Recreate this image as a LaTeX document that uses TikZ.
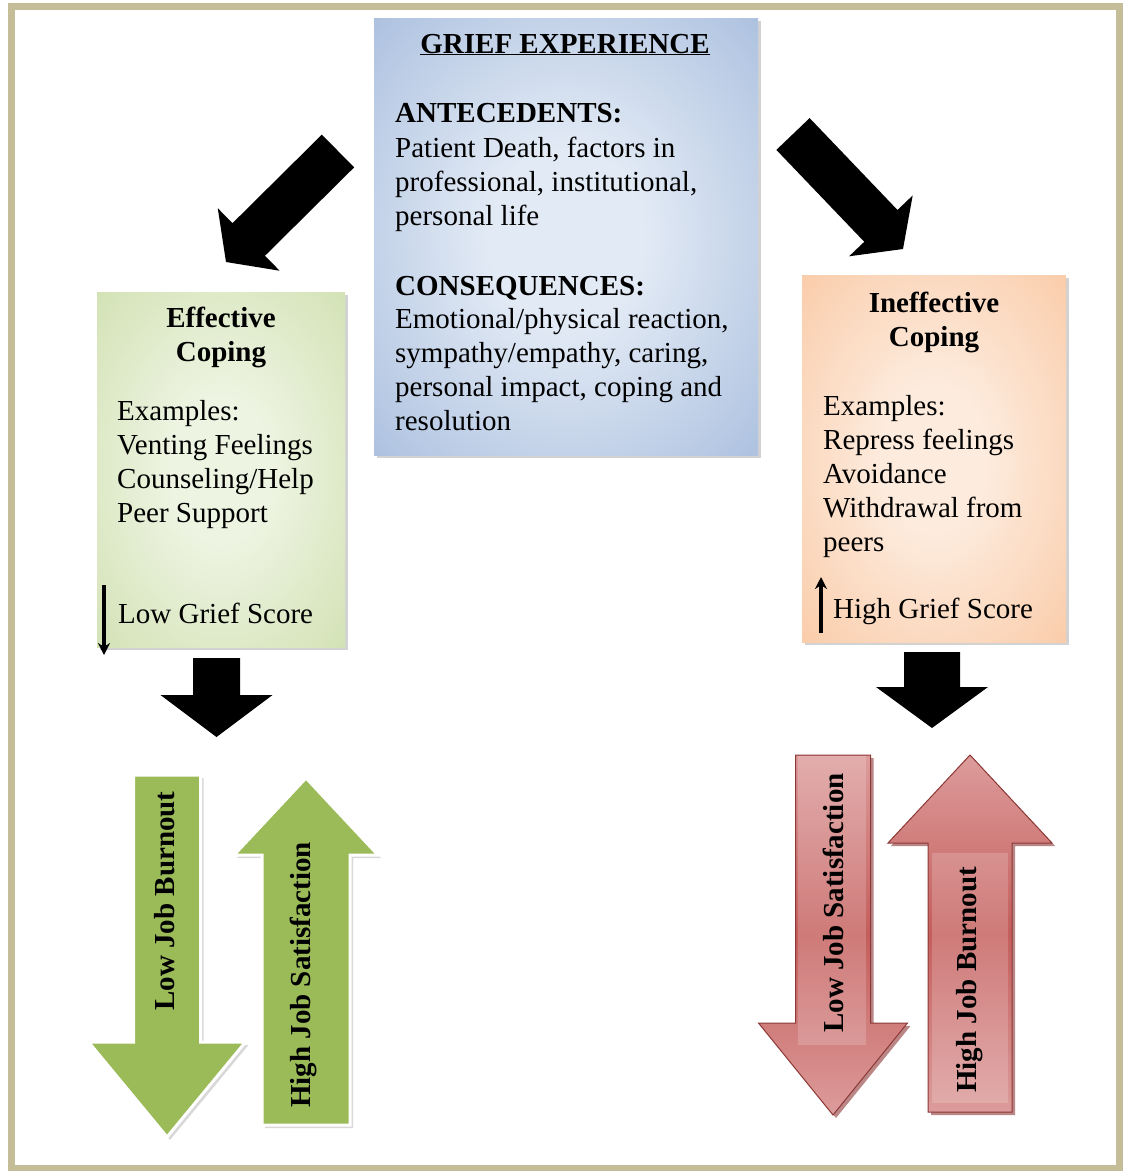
\documentclass[tikz,border=0pt]{standalone}
\usepackage{fontspec}
\setmainfont{Liberation Serif}
\usetikzlibrary{calc,shadows,arrows.meta}
\definecolor{frameC}{HTML}{C4BD97}
\definecolor{blueIn}{HTML}{E2EAF5}
\definecolor{blueOut}{HTML}{6E91C6}
\definecolor{greenIn}{HTML}{EEF4E2}
\definecolor{greenOut}{HTML}{B3CD80}
\definecolor{orIn}{HTML}{FDEBDD}
\definecolor{orOut}{HTML}{F6A86E}
\definecolor{olive}{HTML}{9BBB59}
\definecolor{redLight}{HTML}{DC9C9B}
\definecolor{redDark}{HTML}{C45E5C}
\definecolor{redEdge}{HTML}{8C3836}
\pgfdeclareradialshading{blueshade}{\pgfpoint{0bp}{0bp}}{color(0bp)=(blueIn); color(10bp)=(blueIn); color(66bp)=(blueOut); color(75bp)=(blueOut)}
\pgfdeclareradialshading{greenshade}{\pgfpoint{0bp}{0bp}}{color(0bp)=(greenIn); color(10bp)=(greenIn); color(66bp)=(greenOut); color(75bp)=(greenOut)}
\pgfdeclareradialshading{orshade}{\pgfpoint{0bp}{0bp}}{color(0bp)=(orIn); color(10bp)=(orIn); color(66bp)=(orOut); color(75bp)=(orOut)}
% #1 tail, #2 tip, #3 shaft half width, #4 head half width, #5 head length, #6 style
\newcommand\blockarrow[6]{%
  \coordinate (tmpH) at ($(#2)!#5!(#1)$);
  \path[#6] ($(#1)!#3!90:(#2)$) -- ($(tmpH)!#3!90:(#2)$) -- ($(tmpH)!#4!90:(#2)$) -- (#2)
    -- ($(tmpH)!#4!-90:(#2)$) -- ($(tmpH)!#3!-90:(#2)$) -- ($(#1)!#3!-90:(#2)$) -- cycle;
}
\tikzset{
  box/.style={inner sep=0pt, draw=none, drop shadow={shadow xshift=2.5pt, shadow yshift=-2.5pt, opacity=.35}},
  txt/.style={inner sep=0pt, anchor=base west, font=\fontsize{29}{34}\selectfont},
  btxt/.style={inner sep=0pt, anchor=base west, font=\fontsize{29}{34}\selectfont\bfseries},
  arrtxt/.style={inner sep=0pt, anchor=center, rotate=90, font=\fontsize{29}{34}\selectfont\bfseries},
  blackarrow/.style={fill=black},
  greenarrow/.style={fill=olive, draw=white, line width=3pt, drop shadow={shadow xshift=3pt, shadow yshift=-3pt, opacity=.3}},
  redarrow/.style={top color=redLight, bottom color=redLight, middle color=redDark, draw=redEdge, line width=1pt, drop shadow={shadow xshift=3pt, shadow yshift=-3pt, opacity=.6, fill=redEdge}},
  small/.style={line width=3.5pt, -{Stealth[length=12pt,width=12pt]}}
}
\begin{document}
\begin{tikzpicture}[x=1pt,y=-1pt]
\useasboundingbox (0,0) rectangle (1123,1171);
\fill[white] (0,0) rectangle (1123,1171);
\draw[frameC, line width=7pt] (11.5,6.5) rectangle (1119.5,1168.5);

% boxes
\node[box, shading=blueshade, minimum width=384pt, minimum height=437pt] (grief) at (566,236.5) {};
\node[box, shading=greenshade, minimum width=248pt, minimum height=355pt] (eff) at (221,469.5) {};
\node[box, shading=orshade, minimum width=264pt, minimum height=367pt] (ineff) at (934,458.5) {};

% arrow end points
\coordinate (bl1) at (338,151); \coordinate (bl2) at (226,262);
\coordinate (br1) at (793,134); \coordinate (br2) at (903,249);
\coordinate (dl1) at (216.5,658); \coordinate (dl2) at (216.5,737);
\coordinate (dr1) at (932,652); \coordinate (dr2) at (932,728);
\coordinate (g1a) at (167,775); \coordinate (g1b) at (167,1137);
\coordinate (g2a) at (306,1125); \coordinate (g2b) at (306,778);
\coordinate (r1a) at (833,755); \coordinate (r1b) at (833,1115);
\coordinate (r2a) at (970,1112); \coordinate (r2b) at (970,755);

\blockarrow{bl1}{bl2}{23pt}{44pt}{32pt}{blackarrow}
\blockarrow{br1}{br2}{23pt}{44pt}{32pt}{blackarrow}
\blockarrow{dl1}{dl2}{23.5pt}{56pt}{42pt}{blackarrow}
\blockarrow{dr1}{dr2}{28pt}{56pt}{41pt}{blackarrow}

\blockarrow{g1a}{g1b}{33.5pt}{78.5pt}{95pt}{greenarrow}
\blockarrow{g2a}{g2b}{44pt}{72pt}{77pt}{greenarrow}
\blockarrow{r1a}{r1b}{37.5pt}{74.5pt}{92pt}{redarrow}
\blockarrow{r2a}{r2b}{42pt}{82pt}{88pt}{redarrow}
\fill[white, opacity=.18] (798,756) rectangle (866,1045);
\fill[white, opacity=.18] (932,853) rectangle (1008,1103);

% grief experience text
\node[btxt, anchor=base] (gtitle) at (565,53) {\underline{GRIEF EXPERIENCE}};
\node[btxt] (antT) at (395,122) {ANTECEDENTS:};
\node[txt] (antB) at (395,157) {\parbox[t]{355pt}{\raggedright Patient Death, factors in\\professional, institutional,\\personal life}};
\node[btxt] (conT) at (395,295) {CONSEQUENCES:};
\node[txt] (conB) at (395,328) {\parbox[t]{360pt}{\raggedright Emotional/physical reaction,\\sympathy/empathy, caring,\\personal impact, coping and\\resolution}};

% effective coping text
\node[btxt, anchor=base] (effT) at (221,327) {\parbox[t]{230pt}{\centering Effective\\Coping}};
\node[txt] (effE) at (117,420) {\parbox[t]{225pt}{\raggedright Examples:\\Venting Feelings\\Counseling/Help\\Peer Support}};
\node[txt] (effL) at (118,623) {Low Grief Score};
\coordinate (ls1) at (104,585); \coordinate (ls2) at (104,655);
\draw[small] (ls1) -- (ls2);

% ineffective coping text
\node[btxt, anchor=base] (ineT) at (934,312) {\parbox[t]{250pt}{\centering Ineffective\\Coping}};
\node[txt] (ineE) at (823,415) {\parbox[t]{235pt}{\raggedright Examples:\\Repress feelings\\Avoidance\\Withdrawal from\\peers}};
\node[txt] (ineH) at (833,618) {High Grief Score};
\coordinate (hs1) at (821,633); \coordinate (hs2) at (821,577);
\draw[small] (hs1) -- (hs2);

% arrow labels
\node[arrtxt] (lowburn) at (165,901) {Low Job Burnout};
\node[arrtxt] (highsat) at (303,975) {High Job Satisfaction};
\node[arrtxt] (lowsat) at (833,903) {Low Job Satisfaction};
\node[arrtxt] (highburn) at (970,980) {High Job Burnout};
\end{tikzpicture}
\end{document}
